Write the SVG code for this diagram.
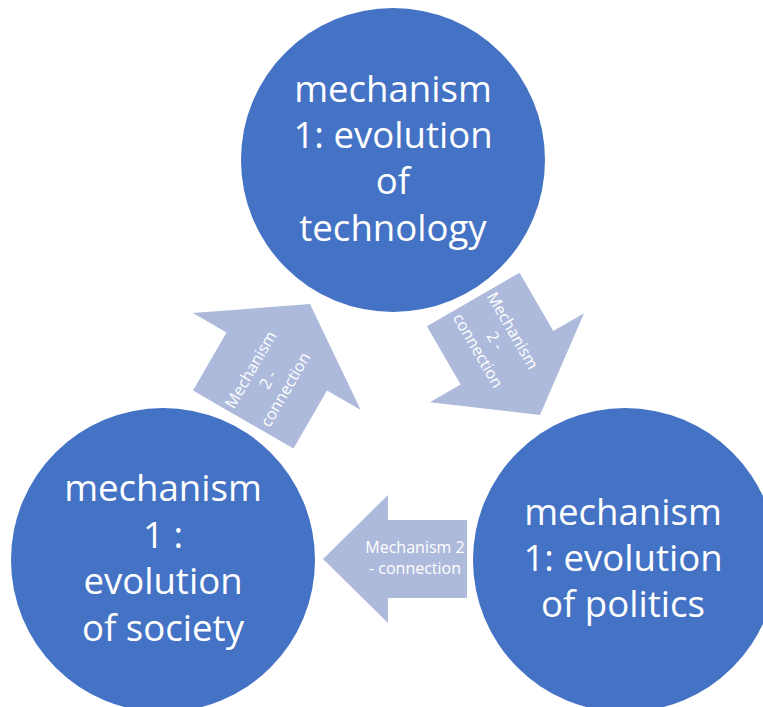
<svg xmlns="http://www.w3.org/2000/svg" width="763" height="707" viewBox="0 0 763 707">
<style>
.node{fill:#4472C4}
.arrow{fill:#AEBADC}
.t{font-family:"Open Sans","Liberation Sans",sans-serif;font-size:36.6px;fill:#FFFFFF;text-anchor:middle}
.at{font-family:"Open Sans","Liberation Sans",sans-serif;font-size:16px;fill:#FFFFFF;text-anchor:middle}
</style>
<rect width="763" height="707" fill="#FFFFFF"/>
<g id="connectors">
  <g id="arrow-society-technology" transform="translate(276.75,361.6) rotate(-60)">
    <polygon class="arrow" points="66.5,0 0,97 0,58 -67,58 -67,-58 0,-58 0,-97"/>
    <text class="at" x="-20" y="-13">Mechanism</text>
    <text class="at" x="-20" y="7">2 -</text>
    <text class="at" x="-20" y="27">connection</text>
  </g>
  <g id="arrow-technology-politics" transform="translate(506.6,357.2) rotate(60)">
    <polygon class="arrow" points="66.75,0 0.75,89 0.75,53.5 -66.75,53.5 -66.75,-53.5 0.75,-53.5 0.75,-89"/>
    <text class="at" x="-20" y="-13">Mechanism</text>
    <text class="at" x="-20" y="7">2 -</text>
    <text class="at" x="-20" y="27">connection</text>
  </g>
  <g id="arrow-politics-society">
    <polygon class="arrow" points="323,559 388,495 388,520 467,520 467,598 388,598 388,623"/>
    <text class="at" x="415" y="553">Mechanism 2</text>
    <text class="at" x="415" y="574">- connection</text>
  </g>
</g>
<g id="node-technology">
  <circle class="node" cx="393" cy="160" r="152"/>
  <text class="t" x="393" y="102">mechanism</text>
  <text class="t" x="393" y="148">1: evolution</text>
  <text class="t" x="393" y="194">of</text>
  <text class="t" x="393" y="241">technology</text>
</g>
<g id="node-society">
  <circle class="node" cx="163" cy="560" r="152"/>
  <text class="t" x="163" y="501">mechanism</text>
  <text class="t" x="163" y="548">1 :</text>
  <text class="t" x="163" y="594">evolution</text>
  <text class="t" x="163" y="641">of society</text>
</g>
<g id="node-politics">
  <circle class="node" cx="625" cy="560" r="152"/>
  <text class="t" x="623" y="525">mechanism</text>
  <text class="t" x="623" y="571">1: evolution</text>
  <text class="t" x="623" y="617">of politics</text>
</g>
</svg>
